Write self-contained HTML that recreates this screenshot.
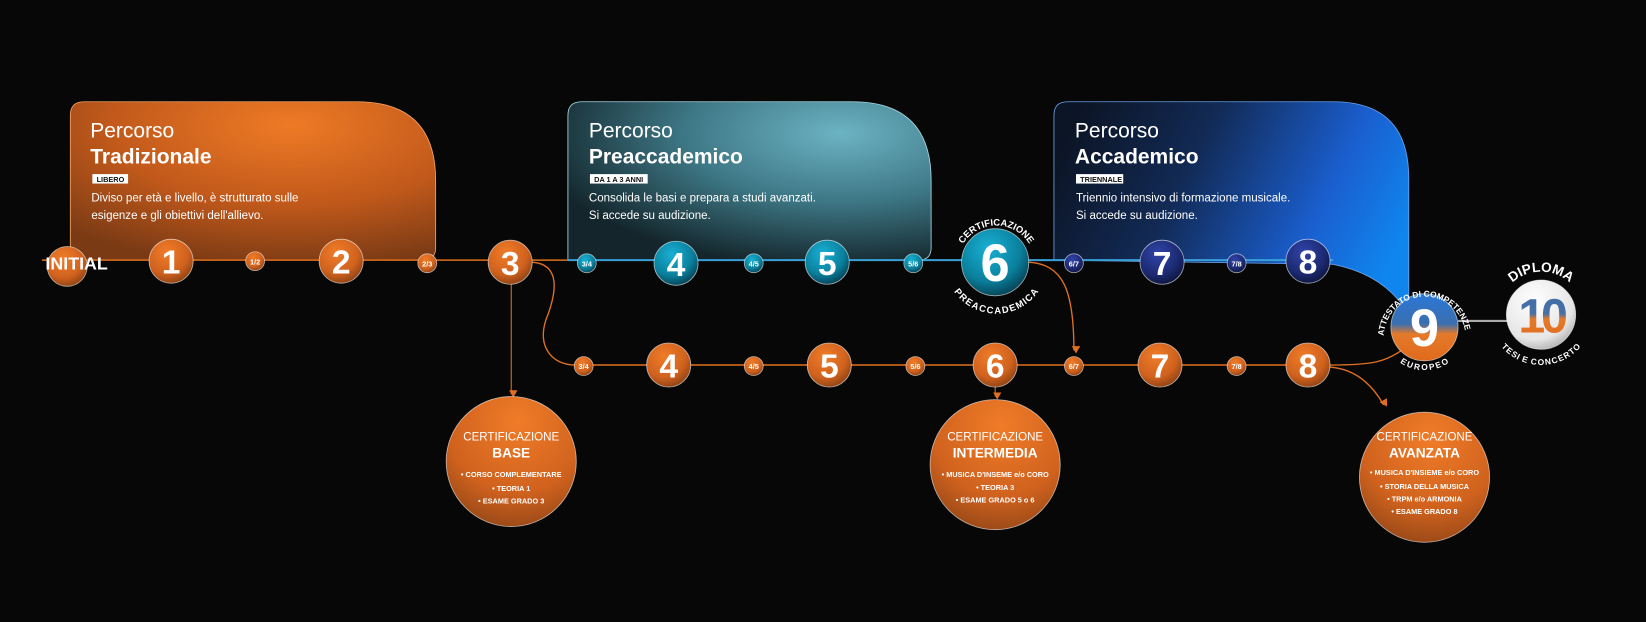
<!DOCTYPE html>
<html><head><meta charset="utf-8">
<style>
html,body{margin:0;padding:0;background:#070707;}
svg{display:block;}
text{font-family:"Liberation Sans",sans-serif;}
</style></head>
<body>
<svg width="1646" height="622" viewBox="0 0 1568 593" preserveAspectRatio="none" xmlns="http://www.w3.org/2000/svg">
<defs>
<radialGradient id="box1" cx="0.6" cy="0.15" r="0.9">
<stop offset="0" stop-color="#ee7a25"/><stop offset="0.55" stop-color="#c1591b"/><stop offset="1" stop-color="#7a3a14"/></radialGradient>
<radialGradient id="box2" cx="0.75" cy="0.2" r="0.85">
<stop offset="0" stop-color="#6cb3c3"/><stop offset="0.5" stop-color="#3e7886"/><stop offset="1" stop-color="#14262c"/></radialGradient>
<linearGradient id="box3" x1="0" y1="0.3" x2="1" y2="0.6">
<stop offset="0" stop-color="#0c1526"/><stop offset="0.35" stop-color="#122a55"/><stop offset="0.75" stop-color="#1a5fd0"/><stop offset="1" stop-color="#0f86ee"/></linearGradient>
<radialGradient id="or" cx="0.4" cy="0.3" r="0.8">
<stop offset="0" stop-color="#f07c28"/><stop offset="0.6" stop-color="#d0621e"/><stop offset="1" stop-color="#7c3a12"/></radialGradient>
<radialGradient id="te" cx="0.4" cy="0.3" r="0.8">
<stop offset="0" stop-color="#19b0d4"/><stop offset="0.6" stop-color="#0a7f9c"/><stop offset="1" stop-color="#063040"/></radialGradient>
<radialGradient id="nv" cx="0.4" cy="0.3" r="0.8">
<stop offset="0" stop-color="#3044a8"/><stop offset="0.6" stop-color="#1c2a72"/><stop offset="1" stop-color="#0a1030"/></radialGradient>
<linearGradient id="nine" x1="0" y1="0" x2="0" y2="1">
<stop offset="0" stop-color="#2a78d8"/><stop offset="0.45" stop-color="#3a6fb0"/><stop offset="0.6" stop-color="#e47a2a"/><stop offset="1" stop-color="#e06a1c"/></linearGradient>
<radialGradient id="ten" cx="0.4" cy="0.3" r="0.8">
<stop offset="0" stop-color="#ffffff"/><stop offset="0.7" stop-color="#e6e6e6"/><stop offset="1" stop-color="#a0a0a0"/></radialGradient>
<linearGradient id="tenTxt" x1="0" y1="0" x2="0" y2="1">
<stop offset="0" stop-color="#3a6db0"/><stop offset="0.45" stop-color="#4a70a0"/><stop offset="0.55" stop-color="#e47a2a"/><stop offset="1" stop-color="#e06a1c"/></linearGradient>
<radialGradient id="cert" cx="0.55" cy="0.2" r="0.9">
<stop offset="0" stop-color="#f07c28"/><stop offset="0.6" stop-color="#d0621e"/><stop offset="1" stop-color="#8a4216"/></radialGradient>
<marker id="ar" markerWidth="8" markerHeight="8" refX="4" refY="6" orient="auto" markerUnits="userSpaceOnUse"><path d="M0,0 L8,0 L4,7 Z" fill="#e07020" transform="rotate(-90 4 4)"/></marker>
<path id="arcT6" d="M912,252 A37,37 0 0 1 986,252"/>
<path id="arcB6" d="M908,250 A41,41 0 0 0 990,250"/>
<path id="arcT9" d="M1319,330 A39,39 0 1 1 1396,325"/>
<path id="arcB9" d="M1325,312 A32,32 0 0 0 1389,312"/>
<path id="arcT10" d="M1427,300 A41,41 0 0 1 1509,300"/>
<path id="arcB10" d="M1426,298 A42,42 0 0 0 1510,298"/>
</defs>

<!-- boxes -->
<path d="M80,97 L340,97 Q415,97 415,172 L415,236 Q415,248 403,248 L67,248 L67,110 Q67,97 80,97 Z" fill="url(#box1)" stroke="#f2a36a" stroke-width="0.8"/>
<path d="M554,97 L812,97 Q887,97 887,172 L887,236 Q887,248 875,248 L541,248 L541,110 Q541,97 554,97 Z" fill="url(#box2)" stroke="#a8d8e4" stroke-width="0.8"/>
<path d="M1017,97 L1270,97 Q1342,97 1342,170 L1342,300 Q1320,262 1270,252 L1004,248 L1004,110 Q1004,97 1017,97 Z" fill="url(#box3)" stroke="#6aa0e8" stroke-width="0.8"/>

<!-- box text -->
<text x="86" y="131" fill="#fff" font-size="20" font-weight="300">Percorso</text>
<text x="86" y="156" fill="#fff" font-size="20" font-weight="700">Tradizionale</text>
<rect x="88" y="166" width="34" height="9" fill="#fff"/><text x="92" y="173.5" font-size="7" font-weight="700" fill="#111">LIBERO</text>
<text x="87" y="192" fill="#fff" font-size="11">Diviso per età e livello, è strutturato sulle</text>
<text x="87" y="209" fill="#fff" font-size="11">esigenze e gli obiettivi dell'allievo.</text>

<text x="561" y="131" fill="#fff" font-size="20" font-weight="300">Percorso</text>
<text x="561" y="156" fill="#fff" font-size="20" font-weight="700">Preaccademico</text>
<rect x="562" y="166" width="55" height="9" fill="#fff"/><text x="566" y="173.5" font-size="7" font-weight="700" fill="#111">DA 1 A 3 ANNI</text>
<text x="561" y="192" fill="#fff" font-size="11">Consolida le basi e prepara a studi avanzati.</text>
<text x="561" y="209" fill="#fff" font-size="11">Si accede su audizione.</text>

<text x="1024" y="131" fill="#fff" font-size="20" font-weight="300">Percorso</text>
<text x="1024" y="156" fill="#fff" font-size="20" font-weight="700">Accademico</text>
<rect x="1025" y="166" width="45" height="9" fill="#fff"/><text x="1029" y="173.5" font-size="7" font-weight="700" fill="#111">TRIENNALE</text>
<text x="1025" y="192" fill="#fff" font-size="11">Triennio intensivo di formazione musicale.</text>
<text x="1025" y="209" fill="#fff" font-size="11">Si accede su audizione.</text>

<!-- lines -->
<line x1="40" y1="248" x2="541" y2="248" stroke="#e07020" stroke-width="1.5"/>
<line x1="541" y1="248" x2="1270" y2="248" stroke="#3aa0d8" stroke-width="1.8"/>
<line x1="548" y1="348" x2="1267" y2="348" stroke="#e07020" stroke-width="1.5"/>
<path d="M507,250 C535,252 530,280 520,305 C512,330 525,348 548,348" fill="none" stroke="#e07020" stroke-width="1.3"/>
<path d="M487,270 L487,376" fill="none" stroke="#e07020" stroke-width="1" marker-end="url(#ar)"/>
<path d="M980,250 C1012,252 1023,275 1023,334" fill="none" stroke="#e07020" stroke-width="1.3" marker-end="url(#ar)"/>
<path d="M948,368 L948,378" fill="none" stroke="#e07020" stroke-width="1" marker-end="url(#ar)"/>
<path d="M1267,348 C1305,348 1322,346 1340,330" fill="none" stroke="#e07020" stroke-width="1.3"/>
<path d="M1267,350 C1292,352 1308,368 1318,386" fill="none" stroke="#e07020" stroke-width="1.3" marker-end="url(#ar)"/>
<line x1="1389" y1="306" x2="1436" y2="306" stroke="#aaa" stroke-width="2"/>

<!-- circles -->
<g stroke="#ffffff" stroke-opacity="0.6" stroke-width="0.8">
<circle cx="64" cy="254" r="19" fill="url(#or)"/>
<circle cx="163" cy="249" r="21" fill="url(#or)"/>
<circle cx="243" cy="249" r="9" fill="url(#or)"/>
<circle cx="325" cy="249" r="21" fill="url(#or)"/>
<circle cx="407" cy="251" r="9" fill="url(#or)"/>
<circle cx="486" cy="250" r="21" fill="url(#or)"/>
<circle cx="559" cy="251" r="9" fill="url(#te)"/>
<circle cx="644" cy="251" r="21" fill="url(#te)"/>
<circle cx="718" cy="251" r="9" fill="url(#te)"/>
<circle cx="788" cy="250" r="21" fill="url(#te)"/>
<circle cx="870" cy="251" r="9" fill="url(#te)"/>
<circle cx="948" cy="250" r="32" fill="url(#te)"/>
<circle cx="1023" cy="251" r="9" fill="url(#nv)"/>
<circle cx="1107" cy="250" r="21" fill="url(#nv)"/>
<circle cx="1178" cy="251" r="9" fill="url(#nv)"/>
<circle cx="1246" cy="249" r="21" fill="url(#nv)"/>
<circle cx="556" cy="349" r="9" fill="url(#or)"/>
<circle cx="637" cy="348" r="21" fill="url(#or)"/>
<circle cx="718" cy="349" r="9" fill="url(#or)"/>
<circle cx="790" cy="348" r="21" fill="url(#or)"/>
<circle cx="872" cy="349" r="9" fill="url(#or)"/>
<circle cx="948" cy="348" r="21" fill="url(#or)"/>
<circle cx="1023" cy="349" r="9" fill="url(#or)"/>
<circle cx="1105" cy="348" r="21" fill="url(#or)"/>
<circle cx="1178" cy="349" r="9" fill="url(#or)"/>
<circle cx="1246" cy="348" r="21" fill="url(#or)"/>
<circle cx="1357" cy="312" r="32" fill="url(#nine)"/>
<circle cx="1468" cy="300" r="33" fill="url(#ten)"/>
<circle cx="487" cy="440" r="62" fill="url(#cert)"/>
<circle cx="948" cy="443" r="62" fill="url(#cert)"/>
<circle cx="1357" cy="455" r="62" fill="url(#cert)"/>
</g>

<g fill="#fff" font-weight="700" text-anchor="middle">
<text x="73" y="257" font-size="17">INITIAL</text>
<g font-size="32">
<text x="163" y="261">1</text><text x="325" y="261">2</text><text x="486" y="262">3</text>
<text x="644" y="263">4</text><text x="788" y="262">5</text>
<text x="1107" y="262">7</text><text x="1246" y="261">8</text>
<text x="637" y="360">4</text><text x="790" y="360">5</text><text x="948" y="360">6</text>
<text x="1105" y="360">7</text><text x="1246" y="360">8</text>
</g>
<text x="948" y="268" font-size="50">6</text>
<text x="1357" y="330" font-size="50">9</text>
<text x="1468" y="317" font-size="46" fill="url(#tenTxt)" letter-spacing="-4">10</text>
<g font-size="7">
<text x="243" y="252">1/2</text><text x="407" y="254">2/3</text><text x="559" y="254">3/4</text>
<text x="718" y="254">4/5</text><text x="870" y="254">5/6</text><text x="1023" y="254">6/7</text>
<text x="1178" y="254">7/8</text>
<text x="556" y="352">3/4</text><text x="718" y="352">4/5</text><text x="872" y="352">5/6</text>
<text x="1023" y="352">6/7</text><text x="1178" y="352">7/8</text>
</g>
<g font-size="9">
<text><textPath href="#arcT6" startOffset="50%">CERTIFICAZIONE</textPath></text>
<text dy="8"><textPath href="#arcB6" startOffset="50%" side="left">PREACCADEMICA</textPath></text>
<text font-size="8"><textPath href="#arcT9" startOffset="50%">ATTESTATO DI COMPETENZE</textPath></text>
<text font-size="8" dy="9"><textPath href="#arcB9" startOffset="50%">EUROPEO</textPath></text>
<text font-size="13"><textPath href="#arcT10" startOffset="50%">DIPLOMA</textPath></text>
<text font-size="8" dy="8"><textPath href="#arcB10" startOffset="50%">TESI E CONCERTO</textPath></text>
</g>

<g>
<text x="487" y="420" font-size="11" font-weight="400">CERTIFICAZIONE</text>
<text x="487" y="436" font-size="13">BASE</text>
<g font-size="7"><text x="487" y="455">• CORSO COMPLEMENTARE</text><text x="487" y="468">• TEORIA 1</text><text x="487" y="480">• ESAME GRADO 3</text></g>
<text x="948" y="420" font-size="11" font-weight="400">CERTIFICAZIONE</text>
<text x="948" y="436" font-size="13">INTERMEDIA</text>
<g font-size="7"><text x="948" y="455">• MUSICA D'INSEME e/o CORO</text><text x="948" y="467">• TEORIA 3</text><text x="948" y="479">• ESAME GRADO 5 o 6</text></g>
<text x="1357" y="420" font-size="11" font-weight="400">CERTIFICAZIONE</text>
<text x="1357" y="436" font-size="13">AVANZATA</text>
<g font-size="7"><text x="1357" y="453">• MUSICA D'INSIEME e/o CORO</text><text x="1357" y="466">• STORIA DELLA MUSICA</text><text x="1357" y="478">• TRPM e/o ARMONIA</text><text x="1357" y="490">• ESAME GRADO 8</text></g>
</g>
</g>
</svg>
</body></html>
